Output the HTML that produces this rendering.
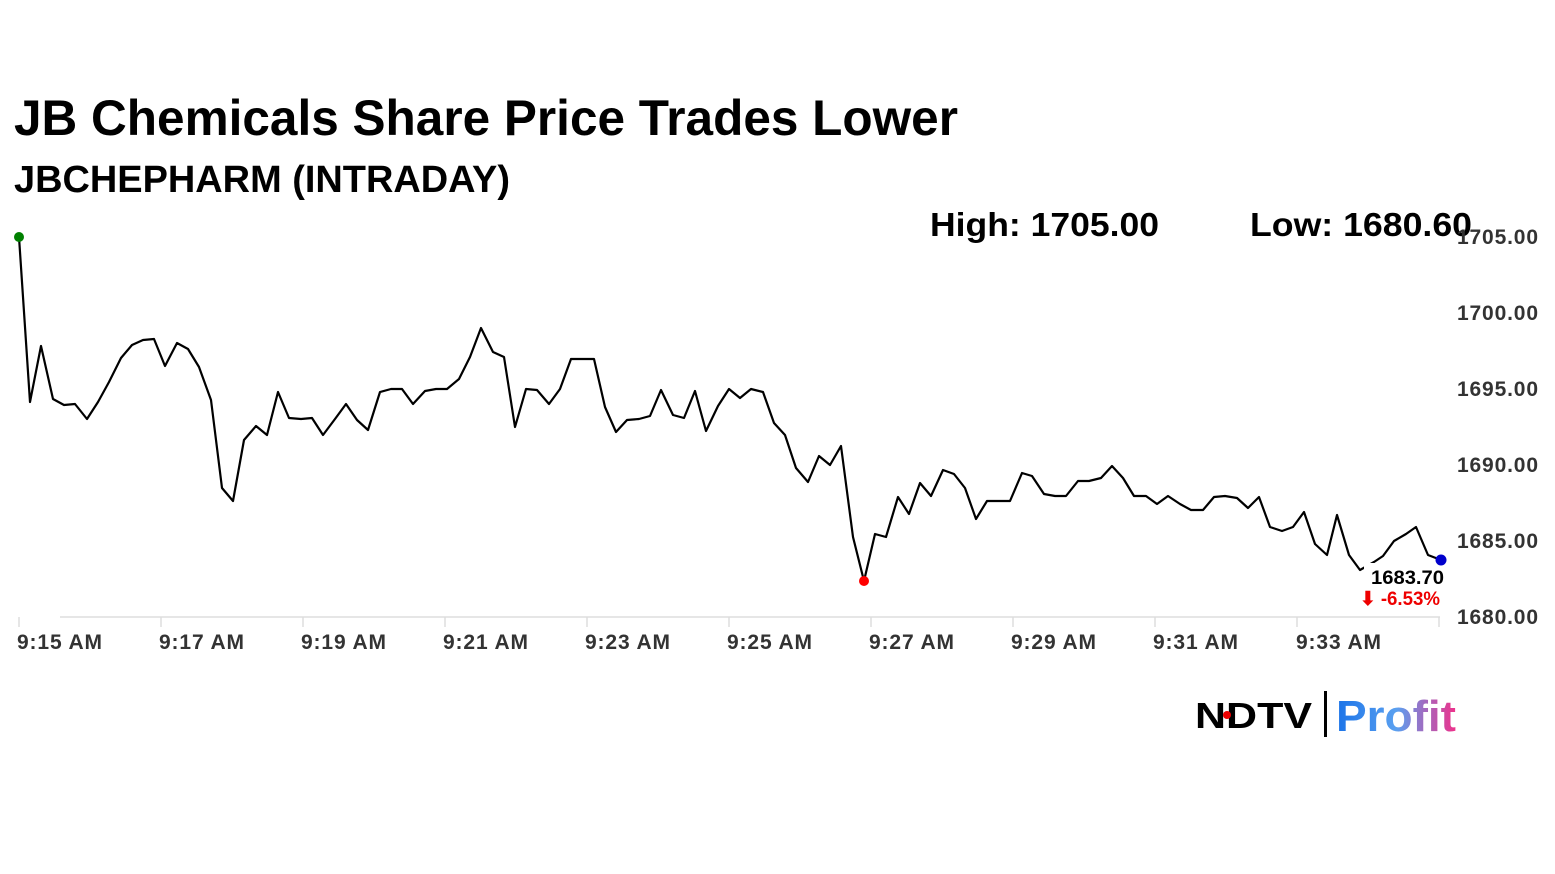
<!DOCTYPE html>
<html><head><meta charset="utf-8"><style>html,body{margin:0;padding:0;background:#fff}svg{display:block}</style></head>
<body>
<svg width="1555" height="874" viewBox="0 0 1555 874" xmlns="http://www.w3.org/2000/svg" font-family="Liberation Sans, Arial, sans-serif">
<defs><linearGradient id="g" x1="0" x2="1"><stop offset="0" stop-color="#1a73e8"/><stop offset="0.5" stop-color="#5aa0f0"/><stop offset="1" stop-color="#f0308a"/></linearGradient></defs>
<text x="14" y="135" font-size="50" font-weight="bold" textLength="944" lengthAdjust="spacingAndGlyphs">JB Chemicals Share Price Trades Lower</text>
<text x="14" y="192" font-size="38" font-weight="bold" textLength="496" lengthAdjust="spacingAndGlyphs">JBCHEPHARM (INTRADAY)</text>
<text x="930" y="236" font-size="33" font-weight="bold" textLength="229" lengthAdjust="spacingAndGlyphs">High: 1705.00</text>
<text x="1250" y="236" font-size="33" font-weight="bold" textLength="222" lengthAdjust="spacingAndGlyphs">Low: 1680.60</text>
<line x1="60" y1="617" x2="1440" y2="617" stroke="#ddd" stroke-width="1.5"/>
<g stroke="#ddd" stroke-width="1.5">
<line x1="19" y1="617" x2="19" y2="627"/><line x1="161" y1="617" x2="161" y2="627"/><line x1="303" y1="617" x2="303" y2="627"/><line x1="445" y1="617" x2="445" y2="627"/><line x1="587" y1="617" x2="587" y2="627"/><line x1="729" y1="617" x2="729" y2="627"/><line x1="871" y1="617" x2="871" y2="627"/><line x1="1013" y1="617" x2="1013" y2="627"/><line x1="1155" y1="617" x2="1155" y2="627"/><line x1="1297" y1="617" x2="1297" y2="627"/><line x1="1439" y1="617" x2="1439" y2="627"/>
</g>
<g font-size="21" font-weight="bold" fill="#333" lengthAdjust="spacingAndGlyphs">
<text x="17" y="649" textLength="85">9:15 AM</text><text x="159" y="649" textLength="85">9:17 AM</text><text x="301" y="649" textLength="85">9:19 AM</text><text x="443" y="649" textLength="85">9:21 AM</text><text x="585" y="649" textLength="85">9:23 AM</text><text x="727" y="649" textLength="85">9:25 AM</text><text x="869" y="649" textLength="85">9:27 AM</text><text x="1011" y="649" textLength="85">9:29 AM</text><text x="1153" y="649" textLength="85">9:31 AM</text><text x="1296" y="649" textLength="85">9:33 AM</text>
<text x="1457" y="244" textLength="81">1705.00</text><text x="1457" y="320" textLength="81">1700.00</text><text x="1457" y="396" textLength="81">1695.00</text><text x="1457" y="472" textLength="81">1690.00</text><text x="1457" y="548" textLength="81">1685.00</text><text x="1457" y="624" textLength="81">1680.00</text>
</g>
<polyline fill="none" stroke="#000" stroke-width="2.2" stroke-linejoin="round" points="19,237 30,402 41,346 53,399 64,405 75,404 87,419 98,402 109,382 121,358 132,345 143,340 154,339 165,366 177,343 188,349 199,367 211,400 222,488 233,501 244,440 256,426 267,435 278,392 289,418 301,419 312,418 323,435 335,419 346,404 357,420 368,430 380,392 391,389 402,389 413,404 425,391 436,389 447,389 459,379 470,357 481,328 493,352 504,357 515,427 526,389 537,390 549,404 560,389 571,359 582,359 594,359 605,407 616,432 627,420 639,419 650,416 661,390 673,415 684,418 695,391 706,431 718,406 729,389 740,398 751,389 763,392 774,423 785,435 796,468 808,482 819,456 830,465 841,446 853,537 864,581 875,534 886,537 898,497 909,514 920,483 931,496 943,470 954,474 965,488 976,519 987,501 1010,501 1022,473 1032,476 1044,494 1055,496 1066,496 1078,481 1089,481 1101,478 1112,466 1123,478 1134,496 1146,496 1157,504 1168,496 1180,504 1191,510 1203,510 1214,497 1225,496 1237,498 1248,508 1259,497 1270,527 1282,531 1293,527 1304,512 1315,544 1327,555 1337,515 1349,555 1360,570 1374,562 1383,556 1394,541 1406,534 1416,527 1428,555 1441,560"/>
<rect x="1364" y="563" width="82" height="46" fill="#fff"/>
<text x="1371" y="584" font-size="19" font-weight="bold" textLength="73" lengthAdjust="spacingAndGlyphs">1683.70</text>
<text x="1360" y="605" font-size="19" font-weight="bold" fill="#e00" textLength="80" lengthAdjust="spacingAndGlyphs">⬇ -6.53%</text>
<circle cx="19" cy="237" r="5" fill="#008000"/>
<circle cx="864" cy="581" r="5" fill="#f00"/>
<circle cx="1441" cy="560" r="5.5" fill="#0000cc"/>
<text x="1195" y="728" font-size="36" font-weight="900" textLength="117" lengthAdjust="spacingAndGlyphs">NDTV</text>
<circle cx="1227" cy="715" r="4" fill="#e00"/>
<rect x="1324" y="691" width="3" height="46" fill="#000"/>
<text x="1336" y="731" font-size="44" font-weight="bold" fill="url(#g)" textLength="120" lengthAdjust="spacingAndGlyphs">Profit</text>
</svg>
</body></html>
